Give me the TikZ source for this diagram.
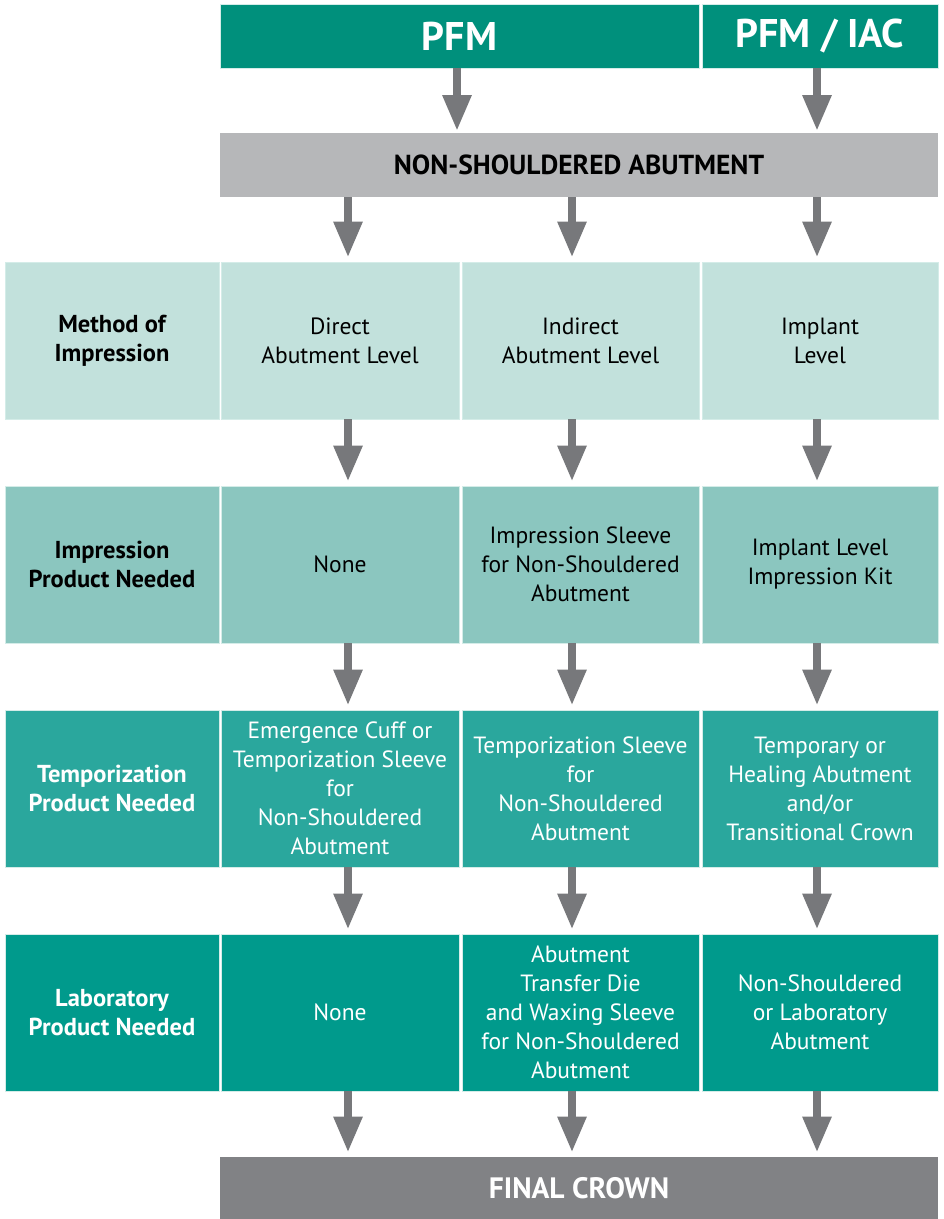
\documentclass[tikz,border=0pt]{standalone}
\usepackage{fontspec}
\setmainfont{PT Sans}
\usetikzlibrary{arrows.meta}
\definecolor{hdr}{HTML}{00907C}
\definecolor{grayb}{HTML}{B6B7B9}
\definecolor{rowa}{HTML}{C2E1DC}
\definecolor{rowb}{HTML}{8BC6BF}
\definecolor{rowc}{HTML}{2AA79D}
\definecolor{rowd}{HTML}{009A8C}
\definecolor{finalb}{HTML}{818285}
\definecolor{arrc}{HTML}{77787B}
\definecolor{boxline}{HTML}{D4ECE8}
\tikzset{
  box/.style={draw=boxline, line width=0.8pt, inner sep=0pt, align=center},
  cellbox/.style={box, minimum height=157pt, font=\fontsize{23.5}{29}\selectfont},
  lblbox/.style={cellbox, minimum width=214pt, font=\fontsize{24.5}{29}\selectfont\bfseries},
  colA/.style={minimum width=238pt},
  colB/.style={minimum width=237pt},
  colC/.style={minimum width=236pt},
  r1/.style={fill=rowa, text=black},
  r2/.style={fill=rowb, text=black},
  r3/.style={fill=rowc, text=white},
  r4/.style={fill=rowd, text=white},
  arr/.style={draw=arrc, line width=8.5pt, -{Triangle[width=27pt,length=36pt]}, shorten >=4pt},
}
\begin{document}
\begin{tikzpicture}[x=1pt,y=-1pt]
\useasboundingbox[fill=white] (0,0) rectangle (944,1219);
% headers
\node[box, fill=hdr, text=white, minimum width=479pt, minimum height=64pt, font=\fontsize{40}{44}\selectfont\bfseries] (pfm) at (459.5,36) {PFM};
\node[box, fill=hdr, text=white, minimum width=236pt, minimum height=64pt, font=\fontsize{40}{44}\selectfont\bfseries] (iac) at (820,36) {PFM / IAC};
\node[box, draw=none, fill=grayb, text=black, minimum width=718pt, minimum height=64pt, font=\fontsize{27.5}{30}\selectfont\bfseries] (abut) at (579,165) {NON-SHOULDERED ABUTMENT};
% row 1
\node[lblbox, r1] (l1) at (112,340.5) {Method of\\Impression};
\node[cellbox, colA, r1] (a1) at (340,340.5) {Direct\\Abutment Level};
\node[cellbox, colB, r1] (b1) at (580.5,340.5) {Indirect\\Abutment Level};
\node[cellbox, colC, r1] (c1) at (820,340.5) {Implant\\Level};
% row 2
\node[lblbox, r2] (l2) at (112,564.5) {Impression\\Product Needed};
\node[cellbox, colA, r2] (a2) at (340,564.5) {None};
\node[cellbox, colB, r2] (b2) at (580.5,564.5) {Impression Sleeve\\for Non-Shouldered\\Abutment};
\node[cellbox, colC, r2] (c2) at (820,564.5) {Implant Level\\Impression Kit};
% row 3
\node[lblbox, r3] (l3) at (112,788.5) {Temporization\\Product Needed};
\node[cellbox, colA, r3] (a3) at (340,788.5) {Emergence Cuff or\\Temporization Sleeve\\for\\Non-Shouldered\\Abutment};
\node[cellbox, colB, r3] (b3) at (580.5,788.5) {Temporization Sleeve\\for\\Non-Shouldered\\Abutment};
\node[cellbox, colC, r3] (c3) at (820,788.5) {Temporary or\\Healing Abutment\\and/or\\Transitional Crown};
% row 4
\node[lblbox, r4] (l4) at (112,1012.5) {Laboratory\\Product Needed};
\node[cellbox, colA, r4] (a4) at (340,1012.5) {None};
\node[cellbox, colB, r4] (b4) at (580.5,1012.5) {Abutment\\Transfer Die\\and Waxing Sleeve\\for Non-Shouldered\\Abutment};
\node[cellbox, colC, r4] (c4) at (820,1012.5) {Non-Shouldered\\or Laboratory\\Abutment};
% final
\node[box, draw=none, fill=finalb, text=white, minimum width=718pt, minimum height=62pt, font=\fontsize{29.5}{32}\selectfont\bfseries] (fin) at (579,1188) {FINAL CROWN};
% arrows
\draw[arr, shorten >=1.5pt] ([xshift=-2.5pt]pfm.south) -- ([xshift=-2.5pt]pfm.south |- abut.north);
\draw[arr, shorten >=1.5pt] ([xshift=-3pt]iac.south) -- ([xshift=-3pt]iac.south |- abut.north);
\draw[arr] ([xshift=8pt]a1.south |- abut.south) -- ([xshift=8pt]a1.north);
\draw[arr] ([xshift=-8.5pt]b1.south |- abut.south) -- ([xshift=-8.5pt]b1.north);
\draw[arr] ([xshift=-3pt]c1.south |- abut.south) -- ([xshift=-3pt]c1.north);
\foreach \u/\v in {a1/a2,a2/a3,a3/a4}{
  \draw[arr] ([xshift=8pt]\u.south) -- ([xshift=8pt]\v.north);}
\foreach \u/\v in {b1/b2,b2/b3,b3/b4}{
  \draw[arr] ([xshift=-8.5pt]\u.south) -- ([xshift=-8.5pt]\v.north);}
\foreach \u/\v in {c1/c2,c2/c3,c3/c4}{
  \draw[arr] ([xshift=-3pt]\u.south) -- ([xshift=-3pt]\v.north);}
\draw[arr] ([xshift=8pt]a4.south) -- ([xshift=8pt]a4.south |- fin.north);
\draw[arr] ([xshift=-8.5pt]b4.south) -- ([xshift=-8.5pt]b4.south |- fin.north);
\draw[arr] ([xshift=-3pt]c4.south) -- ([xshift=-3pt]c4.south |- fin.north);
\end{tikzpicture}
\end{document}
